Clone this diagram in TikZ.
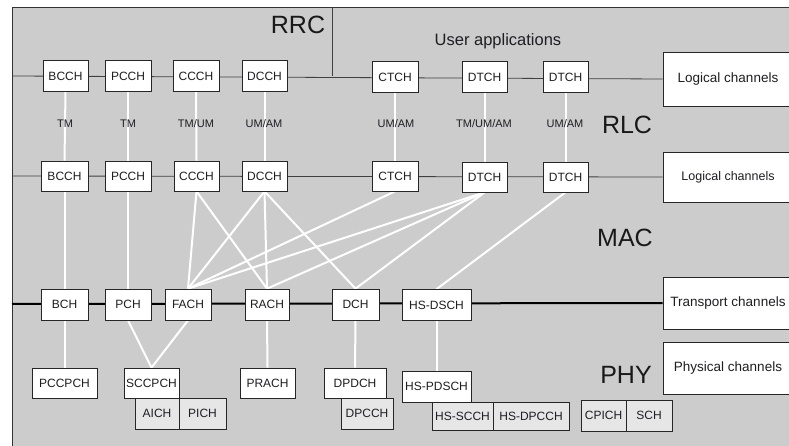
\documentclass[tikz,border=0pt]{standalone}
\usepackage{fontspec}
\setmainfont{Liberation Sans}
\usetikzlibrary{shadows}
\pgfdeclarelayer{back}
\pgfdeclarelayer{mid}
\pgfsetlayers{back,mid,main}
\definecolor{bggray}{RGB}{204,204,204}
\definecolor{lightbox}{RGB}{230,230,230}
\definecolor{txt}{RGB}{30,30,35}
\begin{document}
\begin{tikzpicture}[x=1pt,y=-1pt,
  box/.style={draw=black!85, line width=0.7pt, fill=white, inner sep=0pt, text=txt,
    font=\fontsize{12}{12}\selectfont,
    drop shadow={shadow xshift=0.8pt, shadow yshift=-0.8pt, fill=black!60, opacity=1}},
  bx/.style n args={2}{box, minimum width=#1, minimum height=#2},
  lbx/.style n args={2}{box, fill=lightbox, minimum width=#1, minimum height=#2},
  chbox/.style={box, minimum width=130, font=\fontsize{13.5}{14}\selectfont},
  mode/.style={text=txt, font=\fontsize{11}{11}\selectfont, inner sep=0pt},
  layer/.style={text=black!90, font=\fontsize{25}{26}\selectfont, inner sep=0pt},
  wire/.style={draw=white, line width=2pt},
  thinline/.style={draw=black!75, line width=0.8pt}]
\clip (0,0) rectangle (789,446);
\useasboundingbox (0,0) rectangle (789,446);

% coordinates for frame and free line ends
\coordinate (fTL) at (12,7);
\coordinate (fTR) at (800,7);
\coordinate (fBL) at (12,460);
\coordinate (fBR) at (800,460);
\coordinate (rrcT) at (332,7);
\coordinate (rrcB) at (332,76);
\coordinate (l1) at (12,76);
\coordinate (l2) at (12,176);
\coordinate (l3) at (12,304);

% ---- row 1 (RRC / user applications)
\node[bx={45}{31}] (bcchA) at (65.5,76) {BCCH};
\node[bx={46}{31}] (pcchA) at (128,76) {PCCH};
\node[bx={46}{31}] (ccchA) at (196,76) {CCCH};
\node[bx={45}{31}] (dcchA) at (264.5,76) {DCCH};
\node[bx={46}{31}] (ctchA) at (395,77) {CTCH};
\node[bx={45}{31}] (dtchA) at (484.5,77) {DTCH};
\node[bx={45}{31}] (dtchC) at (565.5,77) {DTCH};
\node[chbox, minimum height=54] (logA) at (728,79) {Logical channels};

% ---- row 2 (RLC / MAC logical)
\node[bx={47}{30}] (bcchB) at (64.5,176) {BCCH};
\node[bx={46}{30}] (pcchB) at (128,176) {PCCH};
\node[bx={45}{30}] (ccchB) at (196.5,176) {CCCH};
\node[bx={45}{30}] (dcchB) at (264.5,176) {DCCH};
\node[bx={46}{30}] (ctchB) at (395,176) {CTCH};
\node[bx={45}{30}] (dtchB) at (484.5,177) {DTCH};
\node[bx={45}{30}] (dtchD) at (565.5,177) {DTCH};
\node[chbox, minimum height=50, font=\fontsize{12.5}{13}\selectfont] (logB) at (728,177) {Logical channels};

% ---- row 3 (transport)
\node[bx={47}{31}] (bch) at (64.5,304.5) {BCH};
\node[bx={46}{31}] (pch) at (128,304.5) {PCH};
\node[bx={46}{31}] (fach) at (188,304.5) {FACH};
\node[bx={44}{31}] (rach) at (267,304.5) {RACH};
\node[bx={47}{31}] (dch) at (355.5,304.5) {DCH};
\node[bx={69}{31}] (hsdsch) at (436.5,305) {HS-DSCH};
\node[chbox, minimum height=52] (trch) at (728,303) {Transport channels};
\node[chbox, minimum height=52] (phch) at (728,368) {Physical channels};

% ---- row 4 (physical)
\node[bx={65}{30}] (pccpch) at (64.5,383) {PCCPCH};
\node[bx={55}{30}] (sccpch) at (151.5,383) {SCCPCH};
\node[lbx={44}{31}] (aich) at (157,413.5) {AICH};
\node[lbx={47}{31}] (pich) at (202.5,413.5) {PICH};
\node[bx={55}{30}] (prach) at (267.5,383) {PRACH};
\node[bx={62}{30}] (dpdch) at (355,383) {DPDCH};
\node[lbx={52}{31}] (dpcch) at (367,413.5) {DPCCH};
\node[bx={69}{31}] (hspdsch) at (436.5,386.5) {HS-PDSCH};
\node[lbx={61}{28}] (hsscch) at (462.5,416) {HS-SCCH};
\node[lbx={76}{28}] (hsdpcch) at (531,416) {HS-DPCCH};
\node[lbx={45}{31}] (cpich) at (603.5,415.5) {CPICH};
\node[lbx={46}{31}] (sch) at (649,415.5) {SCH};

% ---- layer names and mode labels
\node[layer] (rrc) at (298,25) {RRC};
\node[text=txt, font=\fontsize{16.5}{17}\selectfont, inner sep=0pt] (ua) at (498,41) {User applications};
\node[layer] (rlc) at (627,125) {RLC};
\node[layer] (mac) at (625,238) {MAC};
\node[layer] (phy) at (626,375) {PHY};
\node[mode] (m1) at (65,124) {TM};
\node[mode] (m2) at (128,124) {TM};
\node[mode] (m3) at (196,124) {TM/UM};
\node[mode] (m4) at (264,124) {UM/AM};
\node[mode] (m5) at (396,124) {UM/AM};
\node[mode] (m6) at (484,124) {TM/UM/AM};
\node[mode] (m7) at (565,124) {UM/AM};

\begin{pgfonlayer}{back}
  \fill[bggray] (fTL) rectangle (fBR);
  \draw[black!80, line width=0.8pt] (fBL) -- (fTL) -- (fTR);
\end{pgfonlayer}

\begin{pgfonlayer}{mid}
  % horizontal channel lines
  \draw[thinline] (rrcT) -- (rrcB);
  \draw[thinline] (l1) -- (logA.west);
  \draw[thinline] (l2) -- (logB.west);
  \draw[black, line width=2pt] (l3) -- (trch.west);
  % RLC vertical links
  \foreach \a/\b in {bcchA/bcchB, pcchA/pcchB, ccchA/ccchB, dcchA/dcchB,
                     ctchA/ctchB, dtchA/dtchB, dtchC/dtchD}
    \draw[wire] (\a.south) -- (\b.north);
  % MAC mapping logical -> transport
  \foreach \a/\b in {bcchB/bch, pcchB/pch, ccchB/fach, ccchB/rach,
                     dcchB/fach, dcchB/rach, dcchB/dch, ctchB/fach,
                     dtchB/fach, dtchB/rach, dtchB/dch, dtchD/hsdsch}
    \draw[wire] (\a.south) -- (\b.north);
  % transport -> physical
  \foreach \a/\b in {bch/pccpch, pch/sccpch, fach/sccpch, rach/prach,
                     dch/dpdch, hsdsch/hspdsch}
    \draw[wire] (\a.south) -- (\b.north);
\end{pgfonlayer}
\end{tikzpicture}
\end{document}
